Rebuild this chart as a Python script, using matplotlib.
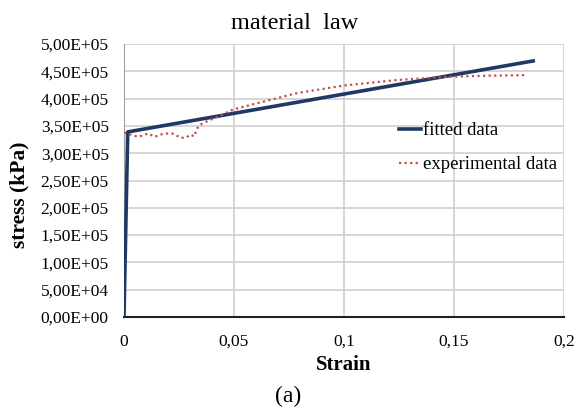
import matplotlib
matplotlib.use("Agg")
import matplotlib.pyplot as plt
from matplotlib.ticker import FuncFormatter

plt.rcParams['font.family'] = ['Liberation Serif', 'DejaVu Serif']

# fitted bilinear law
fit_strain = [0.0, 0.0017, 0.186]
fit_stress = [0.0, 3.39e5, 4.69e5]

# experimental curve
exp_strain = [0.0, 0.003, 0.0065, 0.011, 0.014, 0.018, 0.022, 0.026, 0.0285,
              0.030, 0.032, 0.033, 0.0345, 0.038, 0.0445, 0.0495, 0.063,
              0.0785, 0.100, 0.124, 0.147, 0.165, 0.183]
exp_stress = [3.38e5, 3.34e5, 3.30e5, 3.36e5, 3.30e5, 3.36e5, 3.36e5, 3.28e5,
              3.29e5, 3.34e5, 3.31e5, 3.44e5, 3.52e5, 3.59e5, 3.70e5, 3.80e5,
              3.94e5, 4.10e5, 4.24e5, 4.34e5, 4.40e5, 4.42e5, 4.43e5]

x_ticks = [0, 0.05, 0.1, 0.15, 0.2]
y_ticks = [i * 5e4 for i in range(11)]


def sci_comma(v, pos):
    return f"{v:.2E}".replace('.', ',')


def dec_comma(v, pos):
    return f"{v:g}".replace('.', ',')


fig = plt.figure(figsize=(5.78, 4.09), dpi=100)
ax = fig.add_axes([0.2145, 0.2249, 0.7613, 0.6675])

ax.plot(fit_strain, fit_stress, color='#1f3864', lw=2.6, label='fitted data', zorder=3)
ax.plot(exp_strain, exp_stress, color='#c0504d', lw=1.6, ls=(0, (1, 1.5)),
        label='experimental data', zorder=4)

ax.set_xlim(0, 0.2)
ax.set_ylim(0, 5e5)
ax.set_xticks(x_ticks)
ax.set_yticks(y_ticks)
ax.xaxis.set_major_formatter(FuncFormatter(dec_comma))
ax.yaxis.set_major_formatter(FuncFormatter(sci_comma))
ax.tick_params(length=0, labelsize=12.5)
ax.tick_params(axis='y', pad=11)
ax.tick_params(axis='x', pad=12)
ax.grid(True, color='#d0d0d0', lw=1.2)
ax.set_axisbelow(True)

for side in ['top', 'right']:
    ax.spines[side].set_visible(False)
ax.spines['left'].set_color('#a0a0a0')
ax.spines['bottom'].set_color('#202020')
ax.spines['bottom'].set_linewidth(1.5)

# title sits near the chart centre, like the caption
fig.text(0.51, 0.929, 'material  law', fontsize=17.5, ha='center', va='baseline')
ax.set_xlabel('Strain', fontsize=15, fontweight='bold')
ax.xaxis.set_label_coords(0.5, -0.139)
ax.set_ylabel('stress (kPa)', fontsize=15.5, fontweight='bold')
ax.yaxis.set_label_coords(-0.214, 0.447)

ax.legend(loc='upper left', bbox_to_anchor=(0.586, 0.775), frameon=False,
          fontsize=13.5, handlelength=1.2, handletextpad=0.1, labelspacing=0.9)

fig.text(0.498, 0.005, '(a)', fontsize=17, ha='center', va='bottom')

fig.savefig('out.png', dpi=100)
